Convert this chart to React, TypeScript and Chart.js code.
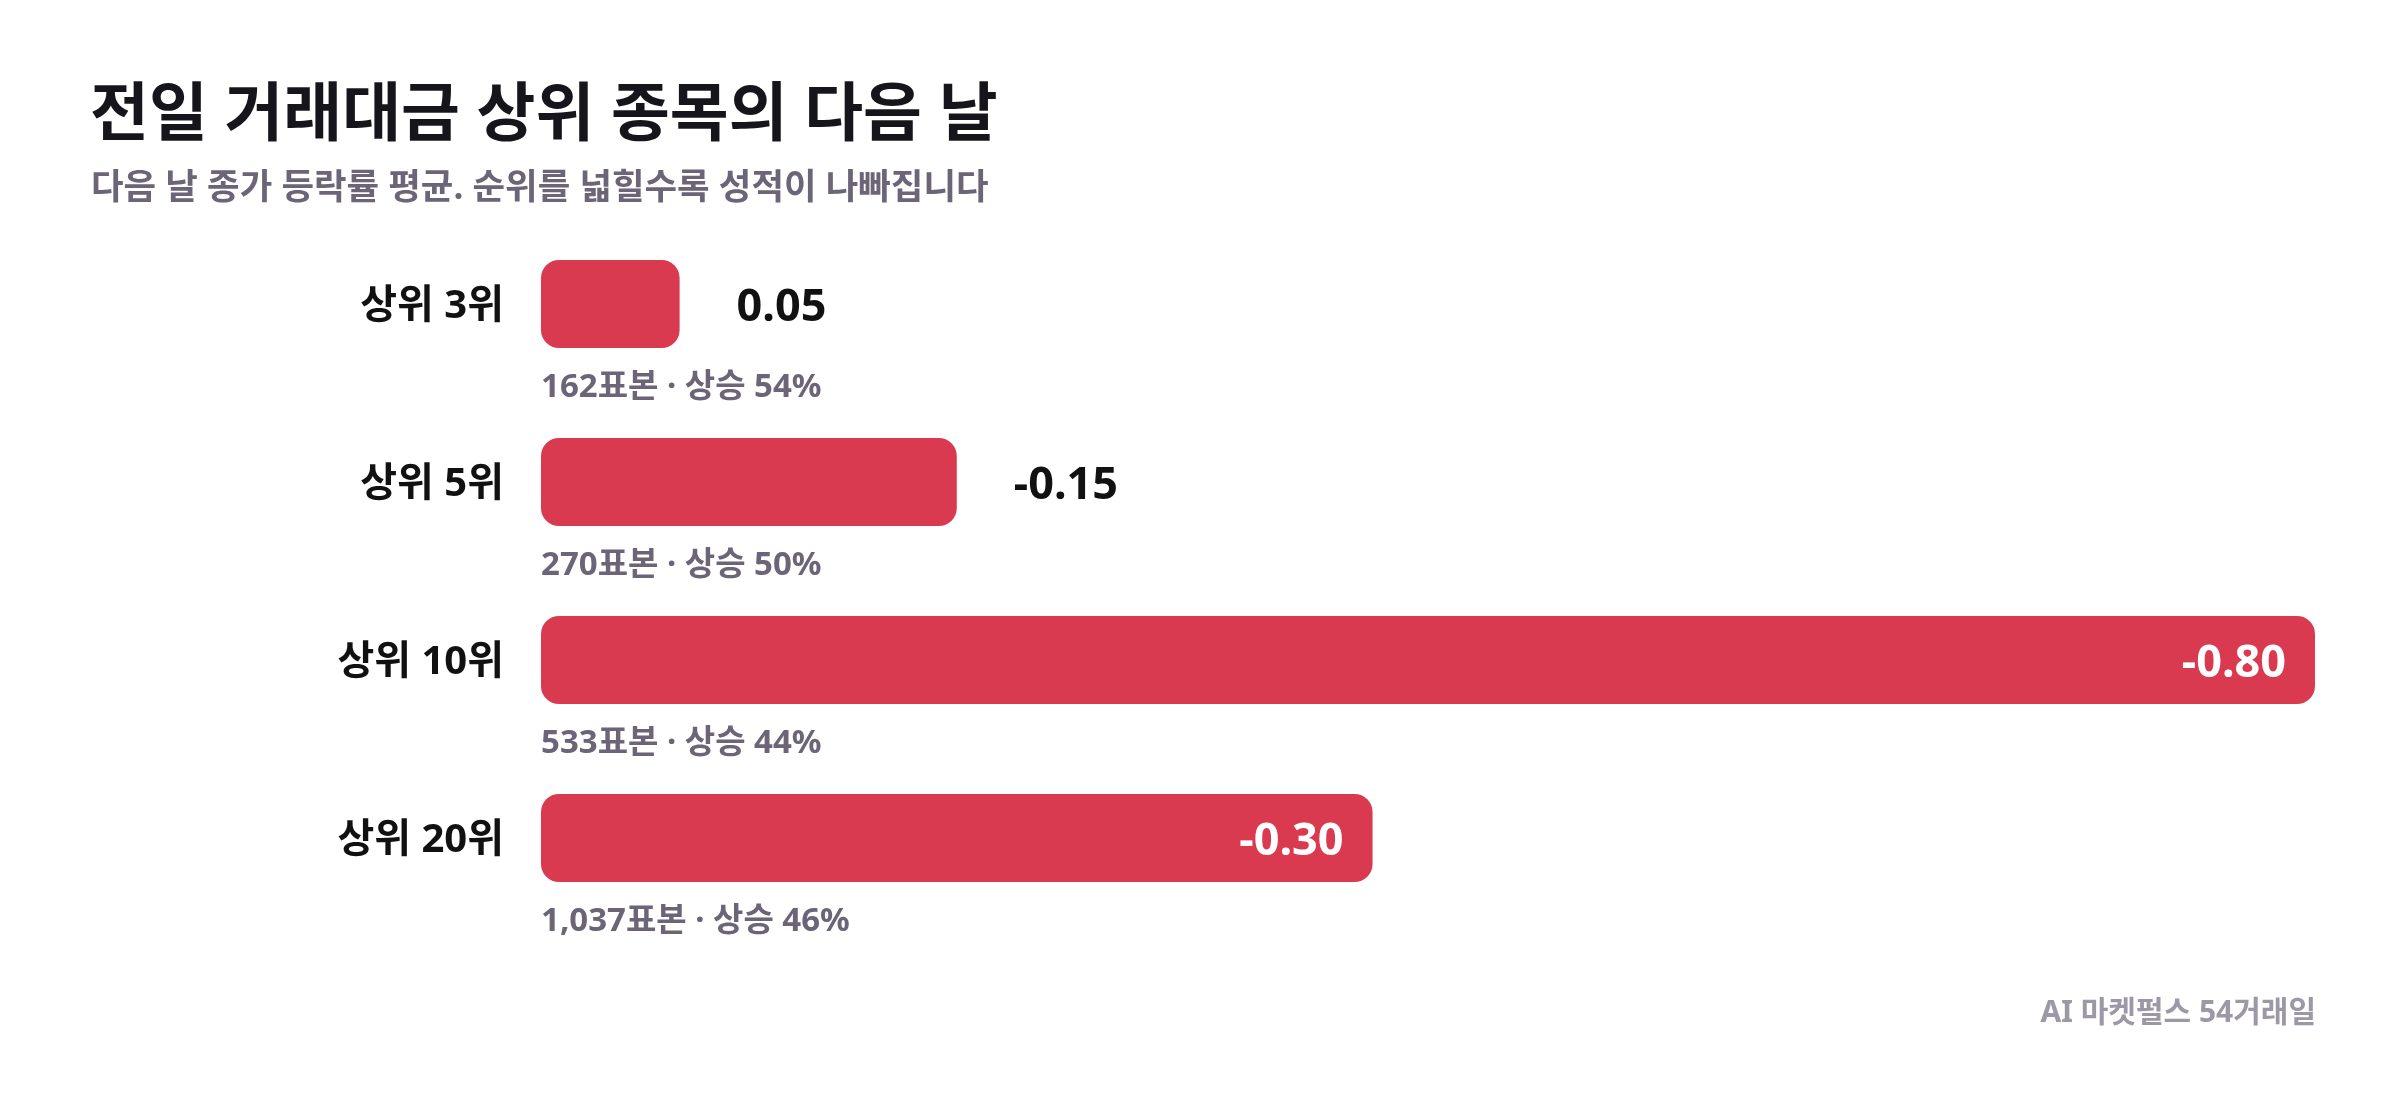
import { useEffect, useRef } from "react";
import Chart from "chart.js/auto";

const CATEGORIES = ["상위 3위", "상위 5위", "상위 10위", "상위 20위"];
const VALUES = [0.05, -0.15, -0.8, -0.3];
const SAMPLES = [162, 270, 533, 1037];
const UP_PCT = [54, 50, 44, 46];
const X_MAX = 0.64;

const TITLE = "전일 거래대금 상위 종목의 다음 날";
const SUBTITLE = "다음 날 종가 등락률 평균. 순위를 넓힐수록 성적이 나빠집니다";
const FOOTNOTE = "AI 마켓펄스 54거래일";

const FONT = '"Noto Sans", "Noto Sans CJK KR", sans-serif';
const BAR_COLOR = "#d93a4f";

const labelsPlugin = {
  id: "labels",
  afterDatasetsDraw(chart: any) {
    const ctx = chart.ctx;
    const meta = chart.getDatasetMeta(0);
    ctx.save();
    meta.data.forEach((bar: any, i: number) => {
      const v = VALUES[i];
      const txt = v.toFixed(2);
      const len = bar.x - bar.base;
      ctx.font = `bold 45px ${FONT}`;
      ctx.textBaseline = "middle";
      if (len > 500) {
        ctx.fillStyle = "#ffffff";
        ctx.textAlign = "right";
        ctx.fillText(txt, bar.x - 29, bar.y + 4);
      } else {
        ctx.fillStyle = "#111111";
        ctx.textAlign = "left";
        ctx.fillText(txt, bar.x + 57, bar.y + 4);
      }
      // sample count / up ratio under each bar
      ctx.font = `bold 33px ${FONT}`;
      ctx.fillStyle = "#6b6577";
      ctx.textAlign = "left";
      ctx.fillText(
        `${SAMPLES[i].toLocaleString("en-US")}표본 · 상승 ${UP_PCT[i]}%`,
        bar.base,
        bar.y + 84
      );
    });
    ctx.restore();
  },
  afterDraw(chart: any) {
    const ctx = chart.ctx;
    ctx.save();
    ctx.textBaseline = "middle";
    ctx.textAlign = "left";
    ctx.fillStyle = "#16151c";
    ctx.font = `bold 64px ${FONT}`;
    ctx.fillText(TITLE, 90, 117);
    ctx.fillStyle = "#6b6577";
    ctx.font = `bold 35.4px ${FONT}`;
    ctx.fillText(SUBTITLE, 91, 189);
    ctx.fillStyle = "#9d98a5";
    ctx.font = `bold 30px ${FONT}`;
    ctx.textAlign = "right";
    ctx.fillText(FOOTNOTE, 2316, 1013);
    ctx.restore();
  },
};

export default function App() {
  const canvasRef = useRef<HTMLCanvasElement>(null);

  useEffect(() => {
    if (!canvasRef.current) return;
    const chart = new Chart(canvasRef.current, {
      type: "bar",
      data: {
        labels: CATEGORIES,
        datasets: [
          {
            data: VALUES.map((v) => Math.min(Math.abs(v), X_MAX)),
            backgroundColor: BAR_COLOR,
            borderRadius: 18,
            borderSkipped: false,
            barPercentage: 88 / 178,
            categoryPercentage: 1,
          },
        ],
      },
      options: {
        indexAxis: "y",
        animation: false,
        responsive: true,
        maintainAspectRatio: false,
        layout: { padding: { left: 0, right: 85, top: 215, bottom: 181 } },
        plugins: {
          legend: { display: false },
          tooltip: { enabled: false },
        },
        scales: {
          x: { display: false, min: 0, max: X_MAX },
          y: {
            grid: { display: false, drawTicks: false },
            border: { display: false },
            ticks: {
              padding: 37,
              labelOffset: 3,
              color: "#111111",
              font: { family: FONT, size: 40, weight: "bold" },
            },
            afterFit: (scale: any) => {
              scale.width = 541;
            },
          },
        },
      },
      plugins: [labelsPlugin],
    });
    return () => chart.destroy();
  }, []);

  return (
    <div style={{ position: "absolute", left: 0, top: 0, width: 2400, height: 1108, background: "#fff" }}>
      <canvas ref={canvasRef} />
    </div>
  );
}
